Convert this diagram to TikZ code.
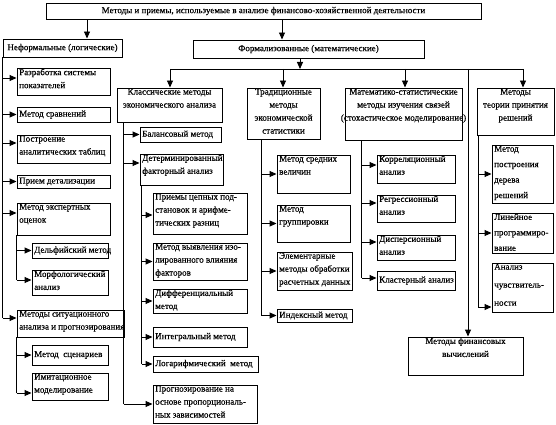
\documentclass[tikz,border=0pt]{standalone}
\usepackage{fontspec}
\setmainfont{Liberation Serif}[FakeBold=0.35]
\usetikzlibrary{arrows.meta,fit,calc}
\newcommand\ff{\fontsize{9}{13}\selectfont}
\newcommand\mkbox[4]{\node[bx, fit={#2 #3}] (#1) {}; \node[tl] (#1t) at (#1.north west) {#4};}
\newcommand\mkboxc[4]{\node[bx, fit={#2 #3}] (#1) {}; \node[tc] (#1t) at (#1.north) {#4};}
\newcommand\mkboxm[4]{\node[bx, fit={#2 #3}] (#1) {}; \node[tm] (#1t) at (#1.center) {#4};}
\newcommand\mkboxl[4]{\node[bx, fit={#2 #3}] (#1) {}; \node[tml] (#1t) at (#1.west) {#4};}
\newcommand\arrto[3]{\path ([yshift=#3pt]#2.west) coordinate (#2a); \draw[arr] (#2a -| #1) -- (#2a);}
\tikzset{
 bx/.style={draw, line width=0.95pt, inner sep=0pt},
 tl/.style={anchor=north west, align=left, inner xsep=2.5pt, inner ysep=1pt, font=\ff},
 tc/.style={anchor=north, align=center, inner xsep=2pt, inner ysep=1pt, font=\ff},
 tm/.style={anchor=center, align=center, inner sep=0pt, font=\ff},
 tml/.style={anchor=west, align=left, inner xsep=2.5pt, inner ysep=0pt, font=\ff},
 wide/.style={font=\fontsize{9}{15.5}\selectfont},
 wider/.style={font=\fontsize{9}{18}\selectfont},
 arr/.style={line width=0.95pt, -{Triangle[length=7pt,width=6pt]}},
 ln/.style={line width=0.95pt},
}
\begin{document}
\begin{tikzpicture}[x=1pt,y=-1pt]
\fill[white] (0,0) rectangle (556,425);
\useasboundingbox (0,0) rectangle (556,425);
% top level
\mkboxm{top}{(46,3)}{(481,19)}{Методы и приемы, используемые в анализе финансово-хозяйственной деятельности}
\mkboxm{nf}{(3,39)}{(122,57)}{Неформальные (логические)}
\mkboxm{fm}{(193,40)}{(424,58)}{Формализованные (математические)}
% left column
\mkbox{n1}{(17,68)}{(110,95)}{Разработка системы\\показателей}
\mkboxl{n2}{(17,107)}{(110,122)}{Метод сравнений}
\mkbox{n3}{(17,135)}{(110,163)}{Построение\\аналитических таблиц}
\mkboxl{n4}{(17,175)}{(110,188)}{Прием детализации}
\mkbox{n5}{(17,203)}{(110,235)}{Метод экспертных\\оценок}
\mkboxl{n51}{(32,243)}{(108,258)}{Дельфийский метод}
\mkbox{n52}{(32,270)}{(108,295)}{Морфологический\\анализ}
\mkbox{n6}{(17,310)}{(124,337)}{Методы ситуационного\\анализа и прогнозирования}
\mkboxl{n61}{(32,345)}{(108,365)}{Метод\ \ сценариев}
\mkbox{n62}{(32,373)}{(108,400)}{Имитационное\\моделирование}
% classical
\mkboxc{kl}{(117,88)}{(222,122)}{Классические методы\\экономического анализа}
\mkboxl{bal}{(140,127)}{(221,142)}{Балансовый метод}
\mkbox{det}{(140,154)}{(223,185)}{Детерминированный\\факторный анализ}
\mkbox{s1}{(153,193)}{(247,234)}{Приемы цепных под-\\становок и арифме-\\тических разниц}
\mkbox{s2}{(153,243)}{(247,280)}{Метод выявления изо-\\лированного влияния\\факторов}
\mkbox{s3}{(153,289)}{(247,313)}{Дифференциальный\\метод}
\mkboxl{s4}{(153,327)}{(247,347)}{Интегральный метод}
\mkboxl{s5}{(153,356)}{(258,372)}{Логарифмический\ \ метод}
\mkbox{s6}{(153,385)}{(257,423)}{Прогнозирование на\\основе пропорциональ-\\ных зависимостей}
% traditional
\mkboxc{tr}{(247,88)}{(320,139)}{Традиционные\\методы\\экономической\\статистики}
\mkbox{t1}{(277,155)}{(350,193)}{Метод средних\\величин}
\mkbox{t2}{(277,205)}{(350,242)}{Метод\\группировки}
\mkbox{t3}{(277,252)}{(352,290)}{Элементарные\\методы обработки\\расчетных данных}
\mkboxl{t4}{(277,309)}{(352,322)}{Индексный метод}
% math-stat
\mkboxc{ms}{(345,88)}{(462,140)}{Математико-статистические\\методы изучения связей\\(стохастическое моделирование)}
\mkbox{m1}{(377,155)}{(455,183)}{Корреляционный\\анализ}
\mkbox{m2}{(377,195)}{(455,222)}{Регрессионный\\анализ}
\mkbox{m3}{(377,235)}{(455,260)}{Дисперсионный\\анализ}
\mkboxl{m4}{(377,271)}{(455,290)}{Кластерный анализ}
% decision theory
\mkboxc{tp}{(477,88)}{(554,135)}{Методы\\теории принятия\\решений}
\node[bx, fit={(492,145) (553,203)}] (p1) {};
\node[tl, wide] (p1t) at (p1.north west) {Метод\\построения\\дерева\\решений};
\node[bx, fit={(492,213) (553,253)}] (p2) {};
\node[tl, wide] (p2t) at (p2.north west) {Линейное\\программиро-\\вание};
\node[bx, fit={(492,263) (553,312)}] (p3) {};
\node[tl, wider] (p3t) at (p3.north west) {Анализ\\чувствитель-\\ности};
% financial
\mkboxc{fin}{(408,337)}{(523,375)}{Методы финансовых\\вычислений}
% top arrows
\coordinate (a1) at (87,0);
\coordinate (a2) at (282,0);
\draw[arr] (top.south -| a1) -- (nf.north -| a1);
\draw[arr] (top.south -| a2) -- (fm.north -| a2);
\coordinate (bus) at (300,69);
\coordinate (busL) at (170,69);
\coordinate (busR) at (523,69);
\coordinate (b2) at (283,69);
\coordinate (b3) at (405,69);
\coordinate (b5) at (468,69);
\draw[arr] (fm.south -| bus) -- (bus);
\draw[ln] (busL) -- (busR);
\draw[arr] (busL) -- (kl.north -| busL);
\draw[arr] (b2) -- (tr.north -| b2);
\draw[arr] (b3) -- (ms.north -| b3);
\draw[arr] (busR) -- (tp.north -| busR);
\draw[arr] (b5) -- (fin.north -| b5);
% trunks
\coordinate (T0) at (nf.south west);
\coordinate (T5) at (n5.south west);
\coordinate (T6) at (n6.south west);
\coordinate (Tk) at ([xshift=7pt]kl.south west);
\coordinate (Td) at ([xshift=2pt]det.south west);
\coordinate (Tt) at ([xshift=15pt]tr.south west);
\coordinate (Tm) at ([xshift=17pt]ms.south west);
\coordinate (Tp) at ([xshift=1.5pt]tp.south west);
% left
\arrto{T0}{n1}{3.5}
\arrto{T0}{n2}{0}
\arrto{T0}{n3}{6}
\arrto{T0}{n4}{0}
\arrto{T0}{n5}{6}
\arrto{T0}{n6}{5.5}
\draw[ln] (T0) -- (T0 |- n6a);
\arrto{T5}{n51}{0}
\arrto{T5}{n52}{2.5}
\draw[ln] (T5) -- (T5 |- n52a);
\arrto{T6}{n61}{0}
\arrto{T6}{n62}{-6.5}
\draw[ln] (T6) -- (T6 |- n62a);
% classical
\arrto{Tk}{bal}{0}
\arrto{Tk}{det}{6.5}
\arrto{Tk}{s6}{0}
\draw[ln] (Tk) -- (Tk |- s6a);
\arrto{Td}{s1}{-1.5}
\arrto{Td}{s2}{0}
\arrto{Td}{s3}{0}
\arrto{Td}{s4}{0}
\arrto{Td}{s5}{0}
\draw[ln] (Td) -- (Td |- s5a);
% traditional
\arrto{Tt}{t1}{0}
\arrto{Tt}{t2}{0}
\arrto{Tt}{t3}{0}
\arrto{Tt}{t4}{0}
\draw[ln] (Tt) -- (Tt |- t4a);
% math-stat
\arrto{Tm}{m1}{4}
\arrto{Tm}{m2}{5.5}
\arrto{Tm}{m3}{5.5}
\arrto{Tm}{m4}{2.5}
\draw[ln] (Tm) -- (Tm |- m4a);
% decision
\arrto{Tp}{p1}{0}
\arrto{Tp}{p2}{0}
\arrto{Tp}{p3}{-19.5}
\draw[ln] (Tp) -- (Tp |- p3a);
\end{tikzpicture}
\end{document}
